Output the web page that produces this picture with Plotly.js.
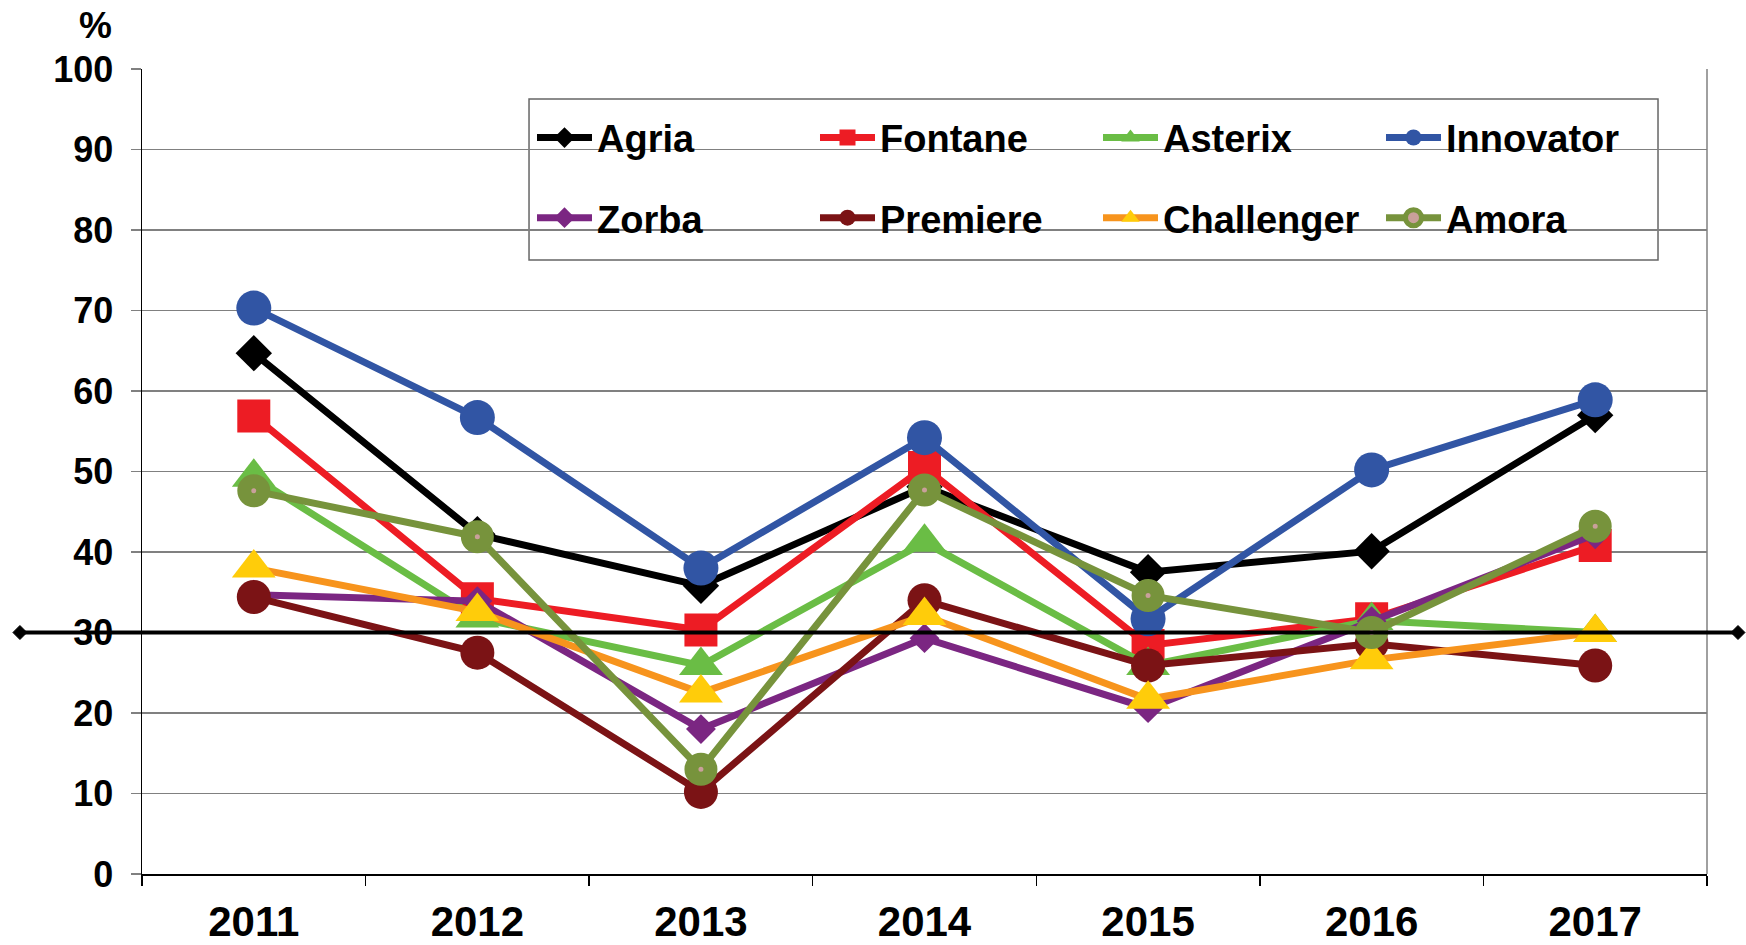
<!DOCTYPE html>
<html>
<head>
<meta charset="utf-8">
<script src="https://cdn.plot.ly/plotly-3.0.1.min.js"></script>
<style>
html,body{margin:0;padding:0;background:#fff;}
#chart{width:1746px;height:945px;}
</style>
</head>
<body>
<div id="chart"></div>
<script>
// ---- data ----
const years = ['2011','2012','2013','2014','2015','2016','2017'];
const agria      = [64.7, 42.2, 35.8, 48.1, 37.5, 40.1, 57.0];
const fontane    = [56.9, 34.2, 30.3, 50.5, 28.4, 31.7, 40.8];
const asterix    = [49.3, 31.8, 25.9, 41.2, 25.9, 31.5, 30.0];
const innovator  = [70.3, 56.7, 38.0, 54.2, 31.7, 50.2, 58.9];
const zorba      = [34.7, 33.9, 18.0, 29.3, 20.6, 31.4, 42.2];
const premiere   = [34.4, 27.5, 10.2, 34.0, 25.9, 28.6, 25.9];
const challenger = [38.0, 32.6, 22.5, 32.1, 21.7, 26.6, 30.0];
const amora      = [47.6, 41.9, 13.0, 47.7, 34.6, 30.0, 43.2];
const threshold  = 30;
const names = ['Agria','Fontane','Asterix','Innovator','Zorba','Premiere','Challenger','Amora'];

const LW = 7;
function tr(name, y, lineColor, marker, legend){
  return {
    type:'scatter', mode:'lines+markers', name:name, x:years, y:y,
    line:{color:lineColor, width:LW},
    marker:marker, legend:legend, cliponaxis:false
  };
}
const traces = [
  tr(names[0], agria, '#000000', {symbol:'diamond', size:28, color:'#000000'}, 'legend'),
  tr(names[1], fontane, '#ED1C24', {symbol:'square', size:33, color:'#ED1C24'}, 'legend'),
  tr(names[2], asterix, '#6ABD45', {symbol:'triangle-up', size:38, color:'#6ABD45'}, 'legend'),
  tr(names[3], innovator, '#3155A4', {symbol:'circle', size:35, color:'#3155A4'}, 'legend'),
  tr(names[4], zorba, '#7B2682', {symbol:'diamond', size:23, color:'#7B2682'}, 'legend2'),
  tr(names[5], premiere, '#7B1315', {symbol:'circle', size:34, color:'#7B1315'}, 'legend2'),
  tr(names[6], challenger, '#F7941D', {symbol:'triangle-up', size:38, color:'#FFCC0A'}, 'legend2'),
  tr(names[7], amora, '#77933C', {symbol:'circle', size:19, color:'#C9A09A', line:{color:'#77933C', width:14}}, 'legend2')
];

const FONT = 'Liberation Sans, Arial, Helvetica, sans-serif';
const TL = -0.078, TR = 1.0198; // paper extents of the threshold line
const diamondPath = 'M-7,0 L0,7 L7,0 L0,-7 Z';
const layout = {
  width:1746, height:945,
  margin:{l:142, r:39, t:69, b:71},
  paper_bgcolor:'#ffffff', plot_bgcolor:'#ffffff',
  font:{family:FONT, color:'#000000'},
  showlegend:true,
  xaxis:{
    type:'category', range:[-0.5, 6.5],
    showline:true, linecolor:'#000000', linewidth:1.5,
    ticks:'outside', tickson:'boundaries', ticklen:10, tickcolor:'#000000', tickwidth:1.5,
    showgrid:false, zeroline:false,
    tickfont:{family:FONT, size:42, weight:'bold', color:'#000000'},
    ticklabelstandoff:10
  },
  yaxis:{
    range:[0,100], dtick:10, tick0:0,
    showline:true, linecolor:'#000000', linewidth:1.5,
    ticks:'outside', ticklen:10, tickcolor:'#808080', tickwidth:1.5,
    showgrid:true, gridcolor:'#808080', gridwidth:1.5, zeroline:false,
    tickfont:{family:FONT, size:36, weight:'bold', color:'#000000'},
    ticklabelstandoff:10
  },
  legend:{
    orientation:'h', x:0.2492, xanchor:'left', y:0.9145, yanchor:'middle',
    bgcolor:'rgba(0,0,0,0)', borderwidth:0, entrywidth:213, entrywidthmode:'pixels', itemwidth:55,
    font:{family:FONT, size:38, weight:'bold', color:'#000000'}
  },
  legend2:{
    orientation:'h', x:0.2492, xanchor:'left', y:0.8149, yanchor:'middle',
    bgcolor:'rgba(0,0,0,0)', borderwidth:0, entrywidth:213, entrywidthmode:'pixels', itemwidth:55,
    font:{family:FONT, size:38, weight:'bold', color:'#000000'}
  },
  shapes:[
    {type:'line', xref:'paper', yref:'paper', x0:1, x1:1, y0:0, y1:1, line:{color:'#808080', width:1.5}, layer:'below'},
    {type:'rect', xref:'paper', yref:'paper', x0:0.2473, x1:0.9687, y0:0.7627, y1:0.9627,
     line:{color:'#666666', width:1.5}, fillcolor:'#ffffff', layer:'below'},
    {type:'line', xref:'paper', yref:'y', x0:TL, x1:TR, y0:threshold, y1:threshold,
     line:{color:'#000000', width:4}},
    {type:'path', xref:'paper', yref:'y', xsizemode:'pixel', ysizemode:'pixel', xanchor:TL, yanchor:threshold,
     path:diamondPath, fillcolor:'#000000', line:{color:'#000000', width:1}},
    {type:'path', xref:'paper', yref:'y', xsizemode:'pixel', ysizemode:'pixel', xanchor:TR, yanchor:threshold,
     path:diamondPath, fillcolor:'#000000', line:{color:'#000000', width:1}}
  ],
  annotations:[
    {text:'%', xref:'paper', yref:'paper', x:-0.0295, y:1.0545, xanchor:'center', yanchor:'middle',
     showarrow:false, font:{family:FONT, size:37, weight:'bold', color:'#000000'}}
  ]
};

Plotly.newPlot('chart', traces, layout, {displayModeBar:false, staticPlot:true});
</script>
</body>
</html>
